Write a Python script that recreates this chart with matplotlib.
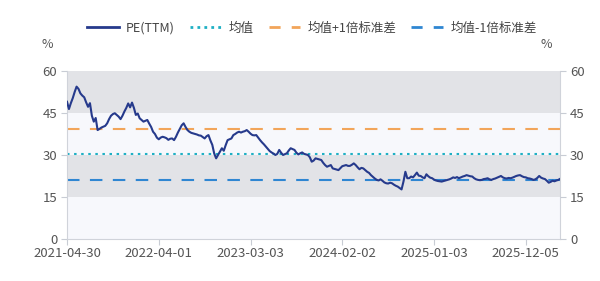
import pandas as pd
import matplotlib.pyplot as plt
from matplotlib.lines import Line2D

plt.rcParams['font.family'] = ['Noto Sans CJK SC', 'DejaVu Sans']

# weekly PE(TTM)
pe = [
    49.0, 46.4, 48.5, 50.3, 52.5, 54.4, 53.6, 52.0, 51.2, 50.6,
    48.8, 47.2, 48.5, 44.0, 41.9, 43.2, 38.9, 39.3, 39.8, 40.1,
    40.4, 41.3, 42.8, 44.0, 44.6, 44.9, 44.3, 43.7, 42.8, 44.0,
    45.5, 46.8, 48.4, 47.0, 48.7, 46.8, 44.3, 44.8, 43.1, 42.5,
    41.9, 42.2, 42.5, 41.2, 40.0, 38.3, 37.5, 36.2, 35.6, 36.2,
    36.5, 36.3, 36.0, 35.4, 35.8, 35.9, 35.3, 36.5, 38.0, 39.3,
    40.6, 41.3, 40.0, 38.9, 38.3, 37.9, 37.7, 37.5, 37.3, 37.0,
    36.9, 36.4, 35.9, 36.7, 37.1, 35.2, 33.6, 30.5, 28.8, 30.0,
    31.2, 32.4, 31.5, 33.5, 35.3, 35.6, 35.9, 37.1, 37.5, 38.0,
    38.3, 38.0, 38.3, 38.5, 38.9, 38.3, 37.6, 37.1, 37.0, 37.1,
    36.2, 35.3, 34.5, 33.8, 33.0, 32.2, 31.4, 30.9, 30.5, 30.0,
    30.4, 31.8, 30.8, 30.0, 30.3, 30.6, 31.6, 32.4, 32.1, 31.8,
    30.8, 30.2, 30.6, 30.9, 30.4, 30.2, 30.0, 29.2, 27.6, 28.0,
    28.8, 28.6, 28.4, 28.2, 27.2, 26.4, 25.8, 26.1, 26.4, 25.2,
    25.0, 24.8, 24.6, 25.3, 26.0, 26.2, 26.4, 26.1, 26.1, 26.5,
    27.0, 26.4, 25.6, 24.9, 25.4, 25.2, 24.6, 24.0, 23.6, 22.8,
    22.2, 21.6, 21.1, 20.9, 21.3, 20.8, 20.2, 19.9, 19.8, 20.1,
    19.9, 19.4, 19.0, 18.7, 18.2, 17.7, 20.5, 24.0, 21.7, 21.7,
    22.3, 22.0, 22.8, 23.7, 22.6, 22.5, 22.0, 21.7, 23.1, 22.4,
    21.9, 21.7, 21.2, 20.9, 20.7, 20.6, 20.5, 20.7, 20.9, 21.1,
    21.3, 21.6, 22.0, 21.8, 22.1, 21.7, 22.0, 22.3, 22.5, 22.8,
    22.6, 22.4, 22.3, 21.7, 21.3, 21.1, 21.0, 21.1, 21.4, 21.5,
    21.7, 21.3, 21.1, 21.4, 21.6, 21.9, 22.2, 22.5, 22.0, 21.7,
    21.6, 21.8, 21.7, 21.9, 22.2, 22.5, 22.7, 22.8, 22.4, 22.1,
    22.0, 21.7, 21.6, 21.4, 21.1, 21.3, 21.8, 22.5, 21.9, 21.6,
    21.4, 20.8, 20.1, 20.4, 20.8, 20.6, 20.9, 21.1, 21.5,
]
dates = pd.date_range('2021-04-30', periods=len(pe), freq='W-FRI')

mean_val = 30.2
upper_val = 39.3   # mean + 1 std
lower_val = 21.2   # mean - 1 std

tick_labels = ['2021-04-30', '2022-04-01', '2023-03-03',
               '2024-02-02', '2025-01-03', '2025-12-05']
y_ticks = [0, 15, 30, 45, 60]

fig = plt.figure(figsize=(6, 2.81), dpi=100)
ax = fig.add_axes([0.1117, 0.1495, 0.822, 0.598])

# background bands
band_gray = '#e2e3e7'
band_light = '#f7f8fc'
ax.axhspan(45, 60, color=band_gray, lw=0, zorder=0)
ax.axhspan(30, 45, color=band_light, lw=0, zorder=0)
ax.axhspan(15, 30, color=band_gray, lw=0, zorder=0)
ax.axhspan(0, 15, color=band_light, lw=0, zorder=0)

ax.axhline(upper_val, color='#f2a55a', lw=1.5, dashes=(6, 5), zorder=2)
ax.axhline(mean_val, color='#1fb0c4', lw=1.5, dashes=(1.2, 2.2), zorder=2)
ax.axhline(lower_val, color='#2f86d2', lw=1.5, dashes=(6, 5), zorder=2)
ax.plot(dates, pe, color='#263a8c', lw=1.5, zorder=3)

ax.set_xlim(dates[0], dates[-1])
ax.set_ylim(0, 60)
ax.set_yticks(y_ticks)
ax.set_xticks(pd.to_datetime(tick_labels))
ax.set_xticklabels(tick_labels)

for s in ['top', 'right', 'left', 'bottom']:
    ax.spines[s].set_color('#d0d3da')
    ax.spines[s].set_linewidth(0.8)
ax.spines['top'].set_visible(False)
ax.tick_params(axis='both', colors='#c8ccd4', labelcolor='#555555',
               labelsize=9.5, length=4, width=0.8)
ax.tick_params(axis='x', pad=2)
ax.tick_params(axis='y', pad=3)

ax2 = ax.twinx()
ax2.set_ylim(0, 60)
ax2.set_yticks(y_ticks)
for s in ['top', 'right', 'left', 'bottom']:
    ax2.spines[s].set_visible(False)
ax2.tick_params(axis='y', colors='#c8ccd4', labelcolor='#555555',
                labelsize=9.5, length=4, width=0.8, pad=3)

fig.text(0.078, 0.843, '%', fontsize=9, color='#555555', ha='center', va='center')
fig.text(0.910, 0.843, '%', fontsize=9, color='#555555', ha='center', va='center')

handles = [
    Line2D([], [], color='#263a8c', lw=2),
    Line2D([], [], color='#1fb0c4', lw=2, dashes=(1, 1.5)),
    Line2D([], [], color='#f2a55a', lw=2, dashes=(4, 4)),
    Line2D([], [], color='#2f86d2', lw=2, dashes=(4, 4)),
]
labels = ['PE(TTM)', '均值', '均值+1倍标准差', '均值-1倍标准差']
fig.legend(handles, labels, loc='center', bbox_to_anchor=(0.52, 0.9), ncol=4,
           frameon=False, fontsize=9, handlelength=2.5, columnspacing=1.2,
           handletextpad=0.6, labelcolor='#444444')

fig.savefig('out.png', dpi=100)
